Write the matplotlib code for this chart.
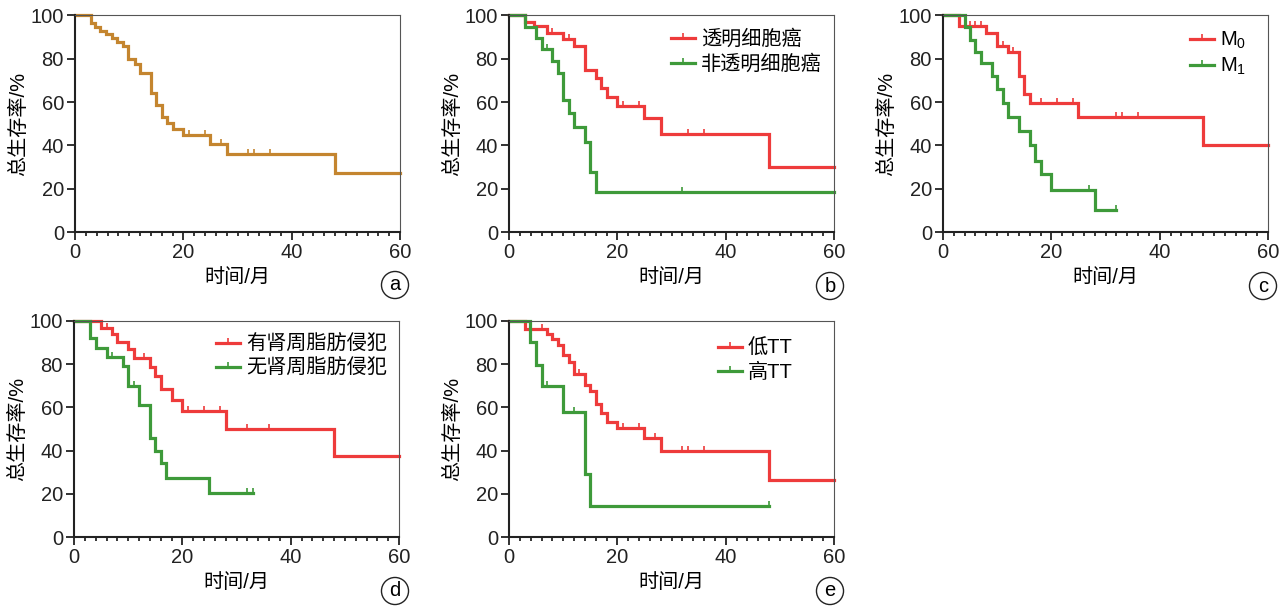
import matplotlib
matplotlib.use("Agg")
from matplotlib import pyplot as plt
from matplotlib.lines import Line2D
from matplotlib.ticker import MultipleLocator

plt.rcParams['font.family'] = ['Liberation Sans', 'Noto Sans CJK SC']
plt.rcParams['mathtext.fontset'] = 'custom'
plt.rcParams['mathtext.rm'] = 'Liberation Sans'

RED = '#EE3B3B'
GREEN = '#3E9A3A'
BROWN = '#C4852F'

# 每条生存曲线: 事件时间, 生存率(%), 删失时间, 随访终点
a_t = [0, 3, 3.7, 4.6, 5.7, 6.8, 7.8, 8.9, 9.8, 11, 12, 14, 15, 16, 17, 18, 20, 25, 28, 48]
a_s = [100, 96.5, 94.5, 93, 91.5, 89.7, 87.7, 86, 80, 77.7, 73.4, 64, 58.5, 53, 50.3, 47.7, 44.6, 40.8, 36.2, 27.2]
a_c = [21, 24, 27, 32, 33, 36]

b_red_t = [0, 3, 4.6, 7, 10, 12, 14, 16, 17, 18, 20, 25, 28, 48]
b_red_s = [100, 97, 95, 92, 89.3, 86, 74.7, 70.9, 66.7, 62.5, 58.1, 52.8, 45.1, 29.9]
b_red_c = [8, 11, 21, 24, 33, 36]
b_grn_t = [0, 3, 5, 6, 8, 9, 10, 11, 12, 14, 15, 16]
b_grn_s = [100, 94.6, 89.7, 84.7, 78.8, 73.2, 60.9, 55, 48.6, 41.7, 27.6, 18.7]
b_grn_c = [7, 32]

c_red_t = [0, 3, 8, 10, 12, 14, 15, 16, 25, 48]
c_red_s = [100, 95, 92, 86, 83, 71.8, 63.8, 59.5, 53, 40]
c_red_c = [5, 6, 7, 11, 13, 18, 21, 24, 32, 33, 36]
c_grn_t = [0, 4, 5, 6, 7, 9, 10, 11, 12, 14, 16, 17, 18, 20, 28]
c_grn_s = [100, 94.6, 88.5, 83, 78, 71.8, 66.2, 59.7, 53, 46.5, 40, 33, 27, 19.5, 10]
c_grn_c = [27, 32]

d_red_t = [0, 5, 7, 8, 10, 11, 14, 15, 16, 18, 20, 28, 48]
d_red_s = [100, 96.8, 93.7, 90, 86.9, 83, 78.8, 74.5, 68.5, 63.4, 58.3, 50, 37.7]
d_red_c = [6, 13, 21, 24, 27, 32, 36]
d_grn_t = [0, 3, 4, 6, 9, 10, 12, 14, 15, 16, 17, 25]
d_grn_s = [100, 92.2, 87.5, 83.4, 79, 70, 61, 45.7, 39.8, 34.2, 27.5, 20.3]
d_grn_c = [7, 11, 32, 33]

e_red_t = [0, 3, 7, 8, 9, 10, 11, 12, 14, 15, 16, 17, 18, 20, 25, 28, 48]
e_red_s = [100, 96.2, 93.7, 91.4, 89, 84.2, 81, 75.4, 70.3, 67.5, 61.4, 57.2, 53.4, 50.6, 45.7, 40, 26.5]
e_red_c = [6, 13, 21, 24, 27, 32, 33, 36]
e_grn_t = [0, 3.8, 5, 6, 10, 14, 15]
e_grn_s = [100, 90, 79.5, 69.8, 58, 29, 14.6]
e_grn_c = [7, 12, 48]

TICK = [(0, 0), (0, 1)]  # 删失标记: 向上的小竖线
FS = 14.5


def surv_at(t, s, x):
    v = s[0]
    for ti, si in zip(t, s):
        if ti <= x:
            v = si
    return v


def km(ax, t, s, cens, end, color):
    xs = list(t) + [end]
    ys = list(s) + [s[-1]]
    ax.step(xs, ys, where='post', color=color, lw=2.3, clip_on=False,
            solid_joinstyle='miter')
    cy = [surv_at(t, s, c) for c in cens]
    ax.plot(cens, cy, ls='none', marker=TICK, ms=7, mew=1.2, color=color,
            clip_on=False)


def style(ax):
    ax.set_xlim(0, 60)
    ax.set_ylim(0, 100)
    ax.xaxis.set_major_locator(MultipleLocator(20))
    ax.xaxis.set_minor_locator(MultipleLocator(2))
    ax.yaxis.set_major_locator(MultipleLocator(20))
    ax.tick_params(which='major', direction='out', length=6, width=1.3,
                   labelsize=FS, pad=2, colors='#222222')
    ax.tick_params(which='minor', axis='x', direction='out', length=3, width=1.1)
    for side in ['left', 'bottom']:
        ax.spines[side].set_linewidth(1.5)
        ax.spines[side].set_color('#222222')
    for side in ['top', 'right']:
        ax.spines[side].set_linewidth(0.8)
        ax.spines[side].set_color('#555555')
    ax.set_xlabel('时间/月', fontsize=FS, labelpad=4)
    ax.set_ylabel('总生存率/%', fontsize=FS, labelpad=2)


def legend(ax, labels, anchor):
    handles = [Line2D([], [], color=RED, lw=2.3, marker=TICK, ms=7, mew=1.2),
               Line2D([], [], color=GREEN, lw=2.3, marker=TICK, ms=7, mew=1.2)]
    ax.legend(handles, labels, loc='upper right', bbox_to_anchor=anchor,
              frameon=False, fontsize=FS, handlelength=1.2, handletextpad=0.3,
              labelspacing=0.25, borderaxespad=0.2)


fig = plt.figure(figsize=(12.88, 6.08), dpi=100)
W, H = 325 / 1288, 216.6 / 608
ax_a = fig.add_axes([75 / 1288, 0.6184, W, H])
ax_b = fig.add_axes([509 / 1288, 0.6184, W, H])
ax_c = fig.add_axes([943 / 1288, 0.6184, W, H])
ax_d = fig.add_axes([74 / 1288, 0.1163, W, H])
ax_e = fig.add_axes([509 / 1288, 0.1163, W, H])

km(ax_a, a_t, a_s, a_c, 60, BROWN)

km(ax_b, b_red_t, b_red_s, b_red_c, 60, RED)
km(ax_b, b_grn_t, b_grn_s, b_grn_c, 60, GREEN)
legend(ax_b, ['透明细胞癌', '非透明细胞癌'], (1.0, 0.99))

km(ax_c, c_red_t, c_red_s, c_red_c, 60, RED)
km(ax_c, c_grn_t, c_grn_s, c_grn_c, 32, GREEN)
legend(ax_c, [r'$\mathregular{M_0}$', r'$\mathregular{M_1}$'], (0.97, 0.99))

km(ax_d, d_red_t, d_red_s, d_red_c, 60, RED)
km(ax_d, d_grn_t, d_grn_s, d_grn_c, 33, GREEN)
legend(ax_d, ['有肾周脂肪侵犯', '无肾周脂肪侵犯'], (1.0, 0.99))

km(ax_e, e_red_t, e_red_s, e_red_c, 60, RED)
km(ax_e, e_grn_t, e_grn_s, e_grn_c, 48, GREEN)
legend(ax_e, ['低TT', '高TT'], (0.91, 0.97))

for ax in [ax_a, ax_b, ax_c, ax_d, ax_e]:
    style(ax)

marks = [('a', 395, 285), ('b', 830, 286), ('c', 1263, 286),
         ('d', 395, 591), ('e', 830, 591)]
for lab, px, py in marks:
    fig.text(px / 1288, 1 - py / 608, lab, ha='center', va='center',
             fontsize=FS, family='Liberation Sans',
             bbox=dict(boxstyle='circle,pad=0.2', fc='white', ec='#222222', lw=1.0))

fig.savefig('out.png', dpi=100)
